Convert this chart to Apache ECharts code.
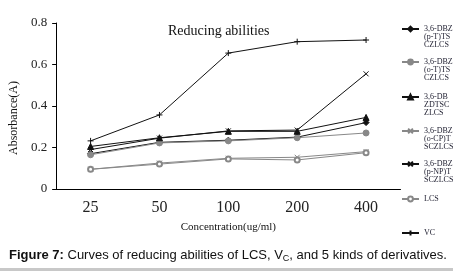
<!DOCTYPE html>
<html>
<head>
<meta charset="utf-8">
<script src="https://cdn.jsdelivr.net/npm/echarts@6/dist/echarts.min.js"></script>
<style>
  html, body { margin: 0; padding: 0; background: #fff; }
  #chart { width: 453px; height: 271px; }
</style>
</head>
<body>
<div id="chart"></div>
<script>
// concentration categories (ug/ml)
var concentrations = ['25', '50', '100', '200', '400']
var yTicks = [0, 0.2, 0.4, 0.6, 0.8]

var seriesNames = ['3,6-DBZ(p-T)TSCZLCS', '3,6-DBZ(o-T)TSCZLCS', '3,6-DBZDTSCZLCS',
  '3,6-DBZ(o-CP)TSCZLCS', '3,6-DBZ(p-NP)TSCZLCS', 'LCS', 'VC']
var legendLabels = ['3,6-DBZ\n(p-T)TS\nCZLCS', '3,6-DBZ\n(o-T)TS\nCZLCS', '3,6-DB\nZDTSC\nZLCS',
  '3,6-DBZ\n(o-CP)T\nSCZLCS', '3,6-DBZ\n(p-NP)T\nSCZLCS', 'LCS', 'VC']

// absorbance values
var pT = [0.170, 0.225, 0.235, 0.250, 0.320]
var oT = [0.165, 0.222, 0.232, 0.247, 0.270]
var dtsc = [0.205, 0.247, 0.278, 0.278, 0.345]
var oCP = [0.095, 0.125, 0.148, 0.153, 0.180]
var pNP = [0.190, 0.245, 0.280, 0.284, 0.555]
var lcs = [0.095, 0.120, 0.145, 0.140, 0.175]
var vc = [0.232, 0.357, 0.655, 0.710, 0.718]

var chart = echarts.init(document.getElementById('chart'))

var serif = 'Liberation Serif'
var black = '#111'
var gray = '#888'
var lh = 8

function line(name, data, color, symbol, size) {
  return {
    name: name,
    type: 'line',
    data: data,
    symbol: symbol,
    symbolSize: size,
    showSymbol: true,
    lineStyle: { color: color, width: 1 },
    itemStyle: { color: color, borderColor: color, borderWidth: 1 },
    animation: false
  }
}

// one legend per entry so the icon sits on the first text line
var legendCenters = [29, 62, 97, 131, 164, 199, 233]
var legends = seriesNames.map(function (name, i) {
  var lines = legendLabels[i].split('\n').length
  var h = (2 * lines - 1) * lh
  return {
    orient: 'vertical',
    left: 401,
    top: legendCenters[i] - h / 2,
    padding: 0,
    itemWidth: 17,
    itemHeight: 6,
    data: [name],
    formatter: function () {
      var label = legendLabels[i]
      var n = label.split('\n').length
      return new Array(n).join('\n') + label
    },
    textStyle: { fontFamily: serif, fontSize: 8, lineHeight: lh, color: '#223' }
  }
})

var xMark = 'path://M0,0L10,10M10,0L0,10'
var plusMark = 'path://M0,5L10,5M5,0L5,10'

chart.setOption({
  backgroundColor: '#fff',
  title: {
    text: 'Reducing abilities',
    left: 163,
    top: 19,
    textStyle: { fontFamily: serif, fontSize: 14, fontWeight: 'normal', color: '#111' }
  },
  grid: { left: 53, right: 52.5, top: 23, bottom: 82 },
  legend: legends,
  xAxis: {
    type: 'category',
    data: concentrations,
    boundaryGap: true,
    name: 'Concentration(ug/ml)',
    nameLocation: 'middle',
    nameGap: 33,
    nameTextStyle: { fontFamily: serif, fontSize: 11, color: '#111' },
    axisLine: { lineStyle: { color: '#000', width: 1 } },
    axisTick: { inside: true, length: 5, lineStyle: { color: '#000' } },
    axisLabel: { fontFamily: serif, fontSize: 16, color: '#222', margin: 11 },
    splitLine: { show: false }
  },
  yAxis: {
    type: 'value',
    min: 0,
    max: 0.8,
    interval: 0.2,
    name: 'Absorbance(A)',
    nameLocation: 'middle',
    nameGap: 33,
    nameTextStyle: { fontFamily: serif, fontSize: 12, color: '#111', padding: [0, 24, 0, 0] },
    axisLine: { show: true, lineStyle: { color: '#000', width: 1 } },
    axisTick: { show: true, length: 4, lineStyle: { color: '#000' } },
    axisLabel: {
      fontFamily: serif, fontSize: 13, color: '#222', margin: 9,
      formatter: function (v) { return yTicks.indexOf(v) === 0 ? '0' : v.toFixed(1) }
    },
    splitLine: { show: false }
  },
  graphic: [
    {
      type: 'text',
      left: 9,
      top: 249,
      style: {
        text: '{b|Figure 7:} Curves of reducing abilities of LCS, V{s|C}, and 5 kinds of derivatives.',
        fontFamily: 'Liberation Sans',
        fontSize: 13,
        fill: '#111',
        rich: {
          b: { fontFamily: 'Liberation Sans', fontSize: 13, fontWeight: 'bold', fill: '#111' },
          s: { fontFamily: 'Liberation Sans', fontSize: 9, fill: '#111', padding: [6, 0, 0, 0] }
        }
      }
    },
    {
      type: 'rect',
      left: 0,
      top: 268,
      shape: { width: 453, height: 3 },
      style: { fill: '#c8c8c8' }
    }
  ],
  series: [
    line(seriesNames[0], pT, black, 'diamond', 6),
    line(seriesNames[1], oT, gray, 'circle', 6),
    line(seriesNames[2], dtsc, black, 'triangle', 6),
    line(seriesNames[3], oCP, gray, xMark, 5),
    line(seriesNames[4], pNP, black, xMark, 5),
    line(seriesNames[5], lcs, gray, 'emptyCircle', 5),
    line(seriesNames[6], vc, black, plusMark, 6)
  ]
})
</script>
</body>
</html>
